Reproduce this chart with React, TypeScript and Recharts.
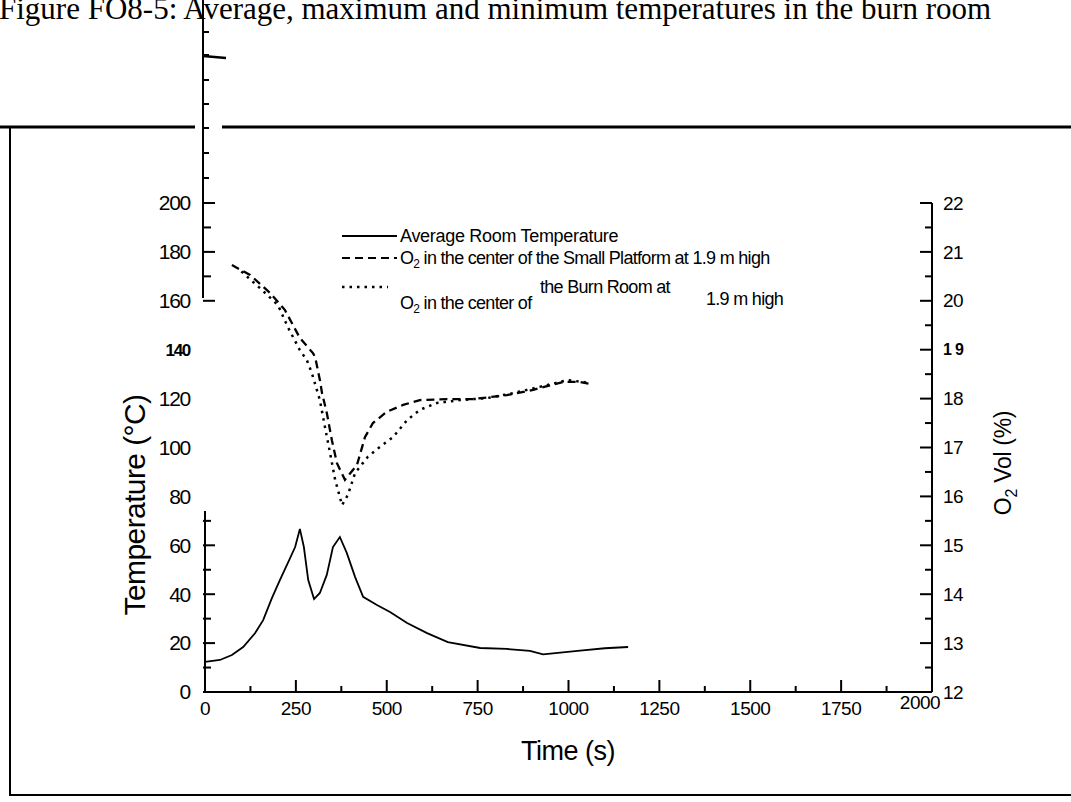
import React from 'react';
import { LineChart, Line, XAxis, YAxis, ReferenceLine } from 'recharts';

// ---- Data ----
const tempTime = [0, 41, 74, 105, 138, 160, 184, 206, 228, 248, 261, 272, 284, 300, 316, 335, 352, 371, 390, 413, 435, 473, 509, 556, 611, 668, 757, 830, 894, 930, 1032, 1100, 1164];
const tempValue = [12.3, 13.1, 15.1, 18.4, 24.1, 29.4, 38.4, 45.8, 52.8, 59.3, 66.7, 59.3, 45.8, 38.0, 40.5, 47.9, 59.3, 63.4, 56.9, 47.0, 38.9, 35.6, 32.7, 28.2, 24.1, 20.4, 18.0, 17.6, 16.8, 15.4, 16.9, 17.9, 18.4];

const o2PlatformTime = [74, 124, 179, 220, 261, 297, 303, 316, 322, 335, 349, 363, 385, 418, 440, 462, 500, 545, 591, 666, 737, 830, 903, 985, 1032, 1060];
const o2PlatformValue = [20.73, 20.53, 20.16, 19.81, 19.24, 18.93, 18.85, 18.38, 18.11, 17.71, 17.15, 16.68, 16.34, 16.64, 17.21, 17.5, 17.73, 17.87, 17.97, 17.99, 17.99, 18.07, 18.18, 18.34, 18.34, 18.3];

const o2RoomTime = [100, 157, 201, 228, 261, 280, 294, 316, 330, 344, 358, 377, 393, 413, 448, 481, 517, 556, 591, 638, 701, 776, 847, 921, 998, 1059];
const o2RoomValue = [20.6, 20.22, 19.91, 19.46, 18.99, 18.79, 18.52, 17.97, 17.42, 16.89, 16.34, 15.82, 16.03, 16.48, 16.81, 17.01, 17.21, 17.56, 17.77, 17.91, 17.97, 18.01, 18.11, 18.24, 18.38, 18.32];

const xTicks = [0, 125, 250, 375, 500, 625, 750, 875, 1000, 1125, 1250, 1375, 1500, 1625, 1750, 1875, 2000];
const leftTicks = [0, 10, 20, 30, 40, 50, 60, 70, 80, 90, 100, 110, 120, 130, 140, 150, 160, 170, 180, 190, 200];
const rightTicks = [12, 12.5, 13, 13.5, 14, 14.5, 15, 15.5, 16, 16.5, 17, 17.5, 18, 18.5, 19, 19.5, 20, 20.5, 21, 21.5, 22];

const seriesNames = [
  'Average Room Temperature',
  'in the center of the Small Platform at 1.9 m high',
  'in the center of',
];

const tempData = tempTime.map((t, i) => ({ t, v: tempValue[i] }));
const platformData = o2PlatformTime.map((t, i) => ({ t, v: o2PlatformValue[i] }));
const roomData = o2RoomTime.map((t, i) => ({ t, v: o2RoomValue[i] }));

const SANS = '"Liberation Sans", Arial, sans-serif';
const SERIF = '"Liberation Serif", "Times New Roman", serif';

function XTick(props: any) {
  const { x, y, payload } = props;
  const v = payload.value;
  const major = v % 250 === 0;
  const last = v === 2000;
  return (
    <g>
      <line x1={x} x2={x} y1={y} y2={y - (major ? 12 : 6)} stroke="#000" strokeWidth={2} />
      {major && (
        <text x={last ? x - 12 : x} y={last ? y + 17 : y + 23} textAnchor="middle" fontSize={19} fontFamily={SANS} fill="#000" letterSpacing={-0.5}>
          {v}
        </text>
      )}
    </g>
  );
}

function LeftTick(props: any) {
  const { x, y, payload } = props;
  const v = payload.value;
  const major = v % 20 === 0;
  const showTick = v <= 70 || v >= 160;
  const bold = v === 140;
  return (
    <g>
      {showTick && <line x1={x - 2} x2={x + (major ? 10 : 6)} y1={y} y2={y} stroke="#000" strokeWidth={2} />}
      {major && (
        <text x={x - 15} y={y} dy="0.35em" textAnchor="end" fontSize={bold ? 17 : 21} fontWeight={bold ? 700 : 400} fontFamily={SANS} fill="#000" letterSpacing={-1.3}>
          {v}
        </text>
      )}
    </g>
  );
}

function RightTick(props: any) {
  const { x, y, payload } = props;
  const v = payload.value;
  const major = Number.isInteger(v);
  const bold = v === 19;
  return (
    <g>
      <line x1={x} x2={x - (major ? 12 : 7)} y1={y} y2={y} stroke="#000" strokeWidth={2} />
      {major && (
        <text x={x + 11} y={y} dy="0.35em" textAnchor="start" fontSize={bold ? 16 : 19} fontWeight={bold ? 700 : 400} fontFamily={SANS} fill="#000" letterSpacing={bold ? 3 : -0.5}>
          {v}
        </text>
      )}
    </g>
  );
}

const LEG = { fontSize: 18, fontFamily: SANS, letterSpacing: -0.3, fill: '#000' } as const;
const LEG2 = { fontSize: 18, fontFamily: SANS, letterSpacing: -0.7, fill: '#000' } as const;

export default function App() {
  return (
    <div style={{ position: 'absolute', left: 0, top: 0, width: 1071, height: 802, overflow: 'hidden', background: '#fff' }}>
      <LineChart width={1071} height={802} margin={{ top: 203, right: 79, bottom: 70, left: 0 }}>
        <XAxis
          dataKey="t"
          type="number"
          domain={[0, 2000]}
          ticks={xTicks}
          interval={0}
          allowDataOverflow
          height={40}
          tickSize={0}
          tickMargin={0}
          tickLine={false}
          tick={<XTick />}
          axisLine={{ stroke: '#000', strokeWidth: 2 }}
        />
        <YAxis
          yAxisId="left"
          orientation="left"
          type="number"
          domain={[0, 200]}
          ticks={leftTicks}
          interval={0}
          width={205}
          tickSize={0}
          tickMargin={0}
          tickLine={false}
          axisLine={false}
          tick={<LeftTick />}
        />
        <YAxis
          yAxisId="right"
          orientation="right"
          type="number"
          domain={[12, 22]}
          ticks={rightTicks}
          interval={0}
          width={60}
          tickSize={0}
          tickMargin={0}
          tickLine={false}
          axisLine={{ stroke: '#000', strokeWidth: 2 }}
          tick={<RightTick />}
        />
        <ReferenceLine yAxisId="left" segment={[{ x: 0, y: 0 }, { x: 0, y: 74 }]} stroke="#000" strokeWidth={2} ifOverflow="visible" />
        <Line yAxisId="left" data={tempData} dataKey="v" type="linear" stroke="#000" strokeWidth={1.8} dot={false} isAnimationActive={false} name={seriesNames[0]} />
        <Line yAxisId="right" data={platformData} dataKey="v" type="linear" stroke="#000" strokeWidth={2.3} strokeDasharray="8 5" dot={false} isAnimationActive={false} name={seriesNames[1]} />
        <Line yAxisId="right" data={roomData} dataKey="v" type="linear" stroke="#000" strokeWidth={2.5} strokeDasharray="2.5 5" dot={false} isAnimationActive={false} name={seriesNames[2]} />
      </LineChart>

      <svg width={1071} height={802} style={{ position: 'absolute', left: 0, top: 0, pointerEvents: 'none' }}>
        {/* caption, cut at the top of the page */}
        <text x={-1} y={19} fontSize={31} fontFamily={SERIF} fill="#000">
          Figure FO8-5: Average, maximum and minimum temperatures in the burn room
        </text>
        {/* frame */}
        <line x1={0} x2={195} y1={127} y2={127} stroke="#000" strokeWidth={3} />
        <line x1={222} x2={1071} y1={127} y2={127} stroke="#000" strokeWidth={3} />
        <line x1={10} x2={10} y1={128} y2={796} stroke="#000" strokeWidth={2} />
        <line x1={10} x2={1071} y1={795} y2={795} stroke="#000" strokeWidth={2} />
        {/* scanned axis piece: runs from the page top down to the 160 tick */}
        <line x1={203} x2={203} y1={0} y2={298} stroke="#000" strokeWidth={2} />
        {[32, 55, 80, 104, 128, 153, 178].map((yy) => (
          <line key={yy} x1={203} x2={209} y1={yy} y2={yy} stroke="#000" strokeWidth={2} />
        ))}
        <line x1={203} x2={226} y1={56} y2={58} stroke="#000" strokeWidth={2.5} />

        {/* legend */}
        <line x1={342} x2={397} y1={236} y2={236} stroke="#000" strokeWidth={1.8} />
        <text x={400} y={242} {...LEG}>{seriesNames[0]}</text>
        <line x1={342} x2={397} y1={258} y2={258} stroke="#000" strokeWidth={2} strokeDasharray="8 5" />
        <text x={400} y={264} {...LEG2}>
          O<tspan fontSize={12} dy={4}>2</tspan><tspan dy={-4}> {seriesNames[1]}</tspan>
        </text>
        <line x1={342} x2={388} y1={287} y2={287} stroke="#000" strokeWidth={2.5} strokeDasharray="2.5 5" />
        <text x={400} y={309} {...LEG2}>
          O<tspan fontSize={12} dy={4}>2</tspan><tspan dy={-4}> {seriesNames[2]}</tspan>
        </text>
        <text x={540} y={293} {...LEG2}>the Burn Room at</text>
        <text x={706} y={305} {...LEG2}>1.9 m high</text>

        {/* axis titles */}
        <text transform="translate(145 505) rotate(-90)" textAnchor="middle" fontSize={30} fontFamily={SANS} fill="#000" letterSpacing={-0.6}>
          Temperature (°C)
        </text>
        <text transform="translate(1011 463) rotate(-90)" textAnchor="middle" fontSize={23} fontFamily={SANS} fill="#000" letterSpacing={-0.3}>
          O<tspan fontSize={16} dy={6}>2</tspan><tspan dy={-6}> Vol (%)</tspan>
        </text>
        <text x={568} y={760} textAnchor="middle" fontSize={27} fontFamily={SANS} fill="#000" letterSpacing={-0.5}>
          Time (s)
        </text>
      </svg>
    </div>
  );
}
